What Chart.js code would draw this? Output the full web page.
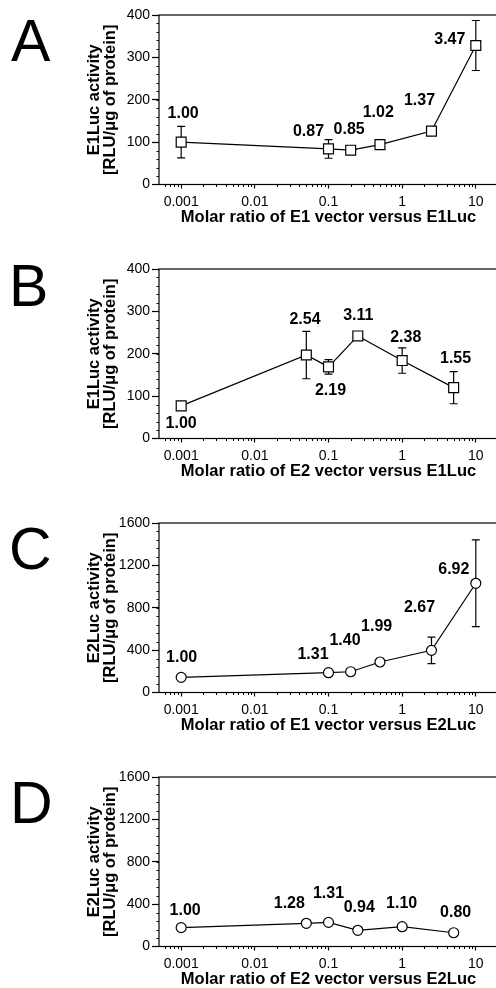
<!DOCTYPE html>
<html><head><meta charset="utf-8">
<script src="https://cdn.jsdelivr.net/npm/chart.js@4.4.1/dist/chart.umd.min.js"></script>
<style>
html,body{margin:0;padding:0;background:#fff;overflow:hidden;width:496px;height:988px;position:relative;}
canvas{position:absolute;left:0;}
</style></head><body>
<canvas id="c0" width="500" height="254" style="top:0px"></canvas>
<canvas id="c1" width="500" height="254" style="top:254px"></canvas>
<canvas id="c2" width="500" height="254" style="top:508px"></canvas>
<canvas id="c3" width="500" height="226" style="top:762px"></canvas>
<script>
// ---- data ----
const panelLetters = ['A', 'B', 'C', 'D'];
const xTickValues = [0.001, 0.01, 0.1, 1, 10];
const xTickLabels = ['0.001', '0.01', '0.1', '1', '10'];
const yTicksE1Luc = [0, 100, 200, 300, 400];
const yTicksE2Luc = [0, 400, 800, 1200, 1600];

const ratioA = [0.001, 0.1, 0.2, 0.5, 2.5, 10];
const activityA = [100, 84, 81, 94, 126, 328];
const errorA = [37, 22, 0, 0, 0, 59];
const foldA = ['1.00', '0.87', '0.85', '1.02', '1.37', '3.47'];

const ratioB = [0.001, 0.05, 0.1, 0.25, 1, 5];
const activityB = [77, 197, 169, 242, 184, 120];
const errorB = [0, 56, 17, 0, 30, 38];
const foldB = ['1.00', '2.54', '2.19', '3.11', '2.38', '1.55'];

const ratioC = [0.001, 0.1, 0.2, 0.5, 2.5, 10];
const activityC = [143, 187, 196, 288, 398, 1031];
const errorC = [0, 0, 0, 0, 125, 410];
const foldC = ['1.00', '1.31', '1.40', '1.99', '2.67', '6.92'];

const ratioD = [0.001, 0.05, 0.1, 0.25, 1, 5];
const activityD = [178, 219, 228, 153, 187, 130];
const errorD = [0, 0, 0, 0, 0, 0];
const foldD = ['1.00', '1.28', '1.31', '0.94', '1.10', '0.80'];

const xTitles = [
  'Molar ratio of E1 vector versus E1Luc',
  'Molar ratio of E2 vector versus E1Luc',
  'Molar ratio of E1 vector versus E2Luc',
  'Molar ratio of E2 vector versus E2Luc'
];
const yTitles = [
  ['E1Luc activity', '[RLU/\u03bcg of protein]'],
  ['E1Luc activity', '[RLU/\u03bcg of protein]'],
  ['E2Luc activity', '[RLU/\u03bcg of protein]'],
  ['E2Luc activity', '[RLU/\u03bcg of protein]']
];

// ---- layout / style (not data) ----
const labelOffsets = [
  [[2, -29], [-20, -17], [-1.5, -21], [-1.7, -32], [-12, -31], [-26, -6]],
  [[0, 18], [-1.3, -35], [2, 24], [0.5, -20], [3.6, -23], [1.9, -29]],
  [[0.5, -20], [-15.5, -18.5], [-5.7, -31], [-3.3, -35], [-12, -43], [-22, -14]],
  [[4, -17], [-17, -20], [0, -29], [1.4, -23], [-0.5, -23], [2, -20]]
];
const letterStyle = [
  {size: 59, x: 11, y: 61},
  {size: 59, x: 9, y: 52},
  {size: 59, x: 9, y: 61},
  {size: 59, x: 10, y: 61}
];
const FONT = "'Liberation Sans', Arial, Helvetica, sans-serif";

const panels = [
  {x: ratioA, y: activityA, err: errorA, fold: foldA, yTicks: yTicksE1Luc, marker: 'rect'},
  {x: ratioB, y: activityB, err: errorB, fold: foldB, yTicks: yTicksE1Luc, marker: 'rect'},
  {x: ratioC, y: activityC, err: errorC, fold: foldC, yTicks: yTicksE2Luc, marker: 'circle'},
  {x: ratioD, y: activityD, err: errorD, fold: foldD, yTicks: yTicksE2Luc, marker: 'circle'}
];

Chart.defaults.color = '#000';
Chart.defaults.font.family = FONT;

const panelPlugin = {
  id: 'panelDecor',
  beforeDatasetsDraw(chart) {
    const o = chart.options.plugins.panelDecor;
    const ctx = chart.ctx, xs = chart.scales.x, ys = chart.scales.y;
    ctx.save();
    ctx.strokeStyle = '#000';
    ctx.lineWidth = 1.2;
    o.data.x.forEach((xv, i) => {
      const e = o.data.err[i];
      if (!e) return;
      const px = xs.getPixelForValue(xv);
      const top = ys.getPixelForValue(o.data.y[i] + e);
      const bot = ys.getPixelForValue(o.data.y[i] - e);
      ctx.beginPath();
      ctx.moveTo(px, top); ctx.lineTo(px, bot);
      ctx.moveTo(px - 4, top); ctx.lineTo(px + 4, top);
      ctx.moveTo(px - 4, bot); ctx.lineTo(px + 4, bot);
      ctx.stroke();
    });
    ctx.restore();
  },
  afterDraw(chart) {
    const o = chart.options.plugins.panelDecor;
    const ctx = chart.ctx, ca = chart.chartArea, xs = chart.scales.x, ys = chart.scales.y;
    ctx.save();
    // frame
    ctx.strokeStyle = '#000';
    ctx.lineWidth = 1.2;
    ctx.strokeRect(ca.left, ca.top, ca.right - ca.left, ca.bottom - ca.top);
    // minor ticks x (log)
    ctx.lineWidth = 1;
    ctx.beginPath();
    for (let d = 0.0001; d < 100; d *= 10) {
      for (let k = 2; k <= 9; k++) {
        const v = k * d;
        if (v <= xs.min || v >= xs.max) continue;
        const px = Math.round(xs.getPixelForValue(v)) + 0.5;
        ctx.moveTo(px, ca.bottom); ctx.lineTo(px, ca.bottom + 2.5);
      }
    }
    // minor ticks y
    const step = (o.yTicks[1] - o.yTicks[0]) / 5;
    for (let v = ys.min + step; v < ys.max; v += step) {
      const py = Math.round(ys.getPixelForValue(v)) + 0.5;
      ctx.moveTo(ca.left, py); ctx.lineTo(ca.left - 2.5, py);
    }
    ctx.stroke();
    // value labels
    const meta = chart.getDatasetMeta(0);
    ctx.fillStyle = '#000';
    ctx.font = 'bold 16px ' + FONT;
    ctx.textAlign = 'center';
    ctx.textBaseline = 'middle';
    meta.data.forEach((pt, i) => {
      const off = o.offsets[i];
      ctx.fillText(o.data.fold[i], pt.x + off[0], pt.y + off[1]);
    });
    // panel letter
    ctx.font = o.letter.size + 'px ' + FONT;
    ctx.textAlign = 'left';
    ctx.textBaseline = 'alphabetic';
    ctx.fillText(o.letterText, o.letter.x, o.letter.y);
    ctx.restore();
  }
};

panels.forEach((p, idx) => {
  const canvas = document.getElementById('c' + idx);
  new Chart(canvas, {
    type: 'line',
    data: {
      datasets: [{
        data: p.x.map((xv, i) => ({x: xv, y: p.y[i]})),
        borderColor: '#000',
        borderWidth: 1.2,
        tension: 0,
        fill: false,
        clip: false,
        pointStyle: p.marker,
        pointRadius: p.marker === 'rect' ? 7 : 5,
        pointBorderWidth: 1.2,
        pointBackgroundColor: '#fff',
        pointBorderColor: '#000'
      }]
    },
    options: {
      responsive: false,
      animation: false,
      devicePixelRatio: 1,
      layout: {autoPadding: false, padding: {left: 0, right: 2, top: 15, bottom: canvas.height - 227.5}},
      plugins: {
        legend: {display: false},
        tooltip: {enabled: false},
        panelDecor: {
          data: p,
          yTicks: p.yTicks,
          offsets: labelOffsets[idx],
          letter: letterStyle[idx],
          letterText: panelLetters[idx]
        }
      },
      scales: {
        x: {
          type: 'logarithmic',
          min: 0.0005,
          max: 20,
          bounds: 'data',
          afterBuildTicks: s => { s.ticks = xTickValues.map(v => ({value: v})); },
          afterFit: s => { s.height = 43; s.paddingLeft = 0; s.paddingRight = 0; },
          ticks: {
            autoSkip: false,
            maxRotation: 0,
            padding: 5,
            font: {size: 14},
            color: '#000',
            callback: (v, i) => xTickLabels[i]
          },
          grid: {display: true, drawOnChartArea: false, drawTicks: true, tickLength: 4, tickColor: '#000', tickWidth: 1.2},
          border: {display: false},
          title: {display: true, text: xTitles[idx], color: '#000', padding: 0, font: {size: 16.5, weight: 'bold'}}
        },
        y: {
          type: 'linear',
          min: p.yTicks[0],
          max: p.yTicks[p.yTicks.length - 1],
          bounds: 'data',
          afterBuildTicks: s => { s.ticks = p.yTicks.map(v => ({value: v})); },
          afterFit: s => { s.width = 159; s.paddingTop = 0; s.paddingBottom = 0; },
          ticks: {
            autoSkip: false,
            padding: 2,
            font: {size: 14},
            color: '#000',
            callback: v => String(v)
          },
          grid: {display: true, drawOnChartArea: false, drawTicks: true, tickLength: 7, tickColor: '#000', tickWidth: 1.2},
          border: {display: false},
          title: {display: true, text: yTitles[idx], color: '#000', padding: {top: 86.75, bottom: 0}, font: {size: 16.5, weight: 'bold', lineHeight: 0.94}}
        }
      }
    },
    plugins: [panelPlugin]
  });
});
</script>
</body></html>
